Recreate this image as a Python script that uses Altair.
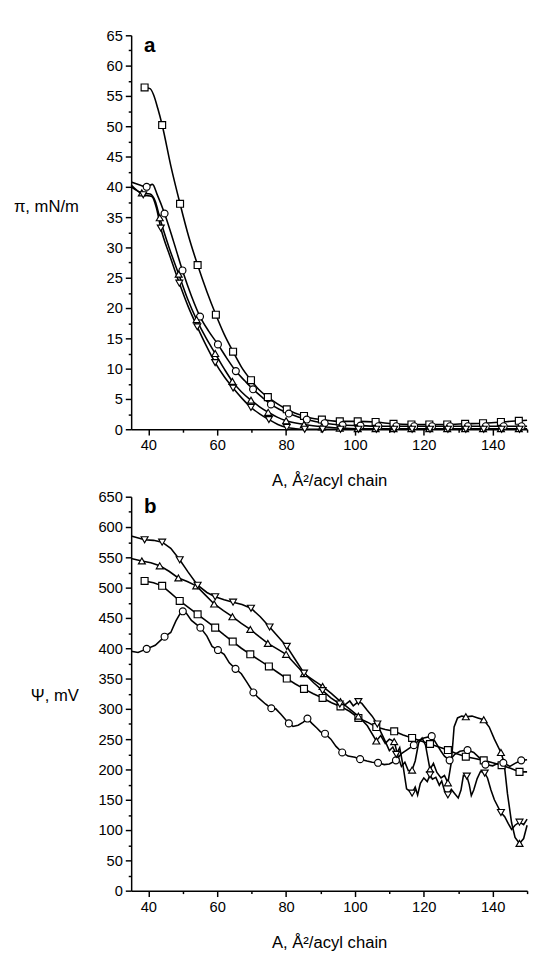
import altair as alt
import pandas as pd

FONT = "Liberation Sans"

# ---------------- panel a : surface pressure isotherms ----------------
a_sq_A = [38.9, 40.5, 41.5, 42.7, 44.0, 46.5, 49.2, 51.7, 54.3, 57.0, 59.6, 62.0, 64.6, 67.0, 69.8, 72.0,
          74.7, 77.5, 80.2, 82.5, 85.2, 87.5, 90.4, 95.6, 100.8, 106.0, 111.2, 116.4, 121.6, 126.8, 132.0,
          137.2, 142.4, 147.6, 150.0]
a_sq_v = [56.4, 56.2, 55.2, 53.0, 50.2, 43.5, 37.2, 31.8, 27.1, 22.7, 18.9, 15.7, 12.8, 10.3, 8.1, 6.6,
          5.3, 4.2, 3.3, 2.7, 2.2, 1.8, 1.6, 1.3, 1.3, 1.2, 0.9, 0.8, 0.8, 0.8, 0.9,
          1.0, 1.2, 1.4, 1.5]
a_sq_m = [38.9, 44.0, 49.2, 54.3, 59.6, 64.6, 69.8, 74.7, 80.2, 85.2, 90.4, 95.6, 100.8, 106.0, 111.2,
          116.4, 121.6, 126.8, 132.0, 137.2, 142.4, 147.6]

a_ci_A = [35.0, 37.5, 39.5, 41.2, 42.5, 44.7, 47.3, 49.9, 52.5, 55.0, 57.5, 60.2, 62.8, 65.4, 68.0, 70.4,
          73.0, 75.6, 78.0, 80.8, 86.0, 91.2, 96.4, 101.6, 106.8, 112.0, 117.2, 122.4, 127.6, 132.8, 138.0,
          143.2, 148.4, 150.0]
a_ci_v = [40.8, 40.3, 40.0, 40.4, 38.8, 35.6, 31.0, 26.2, 22.0, 18.6, 16.2, 14.0, 11.7, 9.6, 8.0, 6.6,
          5.3, 4.1, 3.3, 2.6, 1.6, 1.0, 0.7, 0.6, 0.5, 0.5, 0.5, 0.5, 0.5, 0.5, 0.5,
          0.5, 0.5, 0.5]
a_ci_m = [39.5, 44.7, 49.9, 55.0, 60.2, 65.4, 70.4, 75.6, 80.8, 86.0, 91.2, 96.4, 101.6, 106.8, 112.0,
          117.2, 122.4, 127.6, 132.8, 138.0, 143.2, 148.4]

a_up_A = [35.0, 38.1, 40.5, 42.0, 43.3, 46.0, 48.8, 51.4, 54.0, 56.7, 59.4, 62.0, 64.4, 67.0, 69.8, 72.3,
          74.8, 77.4, 80.0, 85.2, 90.4, 95.6, 100.8, 106.0, 111.2, 116.4, 121.6, 126.8, 132.0, 137.2, 142.4,
          147.6, 150.0]
a_up_v = [40.0, 39.0, 38.8, 37.6, 34.9, 30.0, 25.6, 21.5, 18.1, 15.1, 12.5, 10.0, 7.9, 6.2, 4.8, 3.7,
          2.8, 2.0, 1.4, 0.8, 0.4, 0.2, 0.1, 0.1, 0.1, 0.1, 0.1, 0.1, 0.1, 0.1, 0.1,
          0.1, 0.1]
a_up_m = [38.1, 43.3, 48.8, 54.0, 59.4, 64.4, 69.8, 74.8, 80.0, 85.2, 90.4, 95.6, 100.8, 106.0, 111.2,
          116.4, 121.6, 126.8, 132.0, 137.2, 142.4, 147.6]

a_dn_A = [35.0, 38.5, 41.0, 42.3, 43.6, 46.3, 49.0, 51.6, 54.2, 56.8, 59.4, 62.0, 64.6, 67.2, 69.8, 72.4,
          75.0, 77.6, 80.2, 82.8, 85.4, 90.6, 95.8, 101.0, 106.2, 111.4, 116.6, 121.8, 127.0, 132.2, 137.4,
          142.6, 147.8, 150.0]
a_dn_v = [40.3, 38.7, 38.4, 36.6, 33.2, 28.5, 24.1, 20.2, 16.9, 13.8, 11.0, 8.7, 6.8, 5.1, 3.6, 2.5,
          1.6, 0.8, 0.3, 0.1, 0.0, 0.0, 0.0, 0.0, 0.0, 0.0, 0.0, 0.0, 0.0, 0.0, 0.0,
          0.0, 0.0, 0.0]
a_dn_m = [38.5, 43.6, 49.0, 54.2, 59.4, 64.6, 69.8, 75.0, 80.2, 85.4, 90.6, 95.8, 101.0, 106.2, 111.4,
          116.6, 121.8, 127.0, 132.2, 137.4, 142.6, 147.8]

# ---------------- panel b : surface potential ----------------
b_dn_A = [35.0, 38.9, 41.5, 44.0, 46.5, 49.1, 51.5, 54.3, 57.0, 59.4, 62.0, 64.6, 67.2, 69.8, 72.5, 75.2,
          77.7, 80.2, 82.7, 85.2, 88.0, 90.6, 93.0, 95.6, 97.0, 98.5, 99.5, 101.0, 102.0, 103.5, 105.0,
          106.5, 107.5, 108.5, 110.0, 111.0, 112.0, 113.0, 114.0, 115.0, 116.6, 117.5, 118.2, 119.0, 120.0,
          121.0, 121.8, 122.5, 123.5, 124.5, 125.2, 126.0, 127.0, 128.0, 129.0, 130.0, 130.8, 131.5, 132.5,
          133.2, 133.8, 134.5, 135.5, 136.5, 137.7, 138.5, 139.5, 140.5, 142.4, 143.5, 144.5, 145.5, 146.5,
          147.8, 149.0, 150.0]
b_dn_v = [585, 579, 578, 575, 565, 546, 526, 504, 492, 485, 480, 476, 472, 466, 452, 435,
          419, 403, 381, 359, 343, 330, 318, 308, 306, 313, 305, 312, 309, 298, 288,
          275, 262, 250, 231, 237, 225, 236, 205, 168, 161, 171, 158, 177, 186,
          180, 191, 184, 187, 174, 181, 165, 158, 167, 160, 153, 166, 190, 189,
          175, 157, 166, 185, 197, 194, 186, 166, 150, 129, 122, 111, 101, 108,
          113, 109, 118]
b_dn_m = [38.9, 44.0, 49.1, 54.3, 59.4, 64.6, 69.8, 75.2, 80.2, 85.2, 90.6, 95.6, 101.0, 106.5, 112.0,
          116.6, 121.8, 127.0, 132.5, 137.7, 142.4, 147.8]

b_up_A = [35.0, 38.1, 40.7, 43.3, 46.0, 48.7, 51.3, 53.9, 56.5, 59.1, 61.8, 64.4, 67.0, 69.6, 72.2, 74.7,
          77.4, 80.0, 82.6, 85.2, 88.0, 90.6, 93.2, 95.8, 98.4, 101.0, 103.6, 106.2, 107.5, 108.8, 110.0,
          111.4, 112.5, 113.5, 114.5, 115.5, 116.6, 117.5, 118.5, 119.5, 120.5, 121.8, 122.8, 123.8, 125.0,
          126.0, 127.0, 128.0, 128.8, 129.8, 131.0, 132.2, 134.0, 135.7, 137.4, 139.0, 140.5, 142.4, 143.3,
          144.3, 145.5, 146.5, 147.8, 149.0, 150.0]
b_up_v = [548, 544, 541, 536, 527, 516, 510, 503, 488, 473, 462, 452, 441, 431, 419, 408,
          399, 390, 374, 358, 347, 337, 325, 312, 300, 288, 272, 247, 256, 243, 250,
          246, 222, 205, 212, 198, 199, 214, 244, 252, 240, 200, 210, 195, 186,
          190, 178, 212, 270, 285, 288, 287, 288, 285, 282, 270, 250, 228, 212,
          160, 112, 88, 78, 86, 108]
b_up_m = [38.1, 43.3, 48.7, 53.9, 59.1, 64.4, 69.6, 74.7, 80.0, 85.2, 90.6, 95.8, 101.0, 106.2, 111.4,
          116.6, 121.8, 127.0, 132.2, 137.4, 142.4, 147.8]

b_sq_A = [38.9, 41.5, 44.0, 46.5, 49.1, 51.7, 54.3, 56.8, 59.4, 62.0, 64.5, 67.0, 69.6, 72.3, 75.0, 77.6,
          80.2, 82.7, 85.2, 87.9, 90.6, 93.2, 95.8, 98.4, 101.0, 103.6, 106.2, 108.8, 111.4, 114.0, 116.6,
          119.2, 121.8, 124.4, 127.0, 129.6, 132.2, 134.8, 137.4, 140.0, 142.6, 145.2, 147.8, 150.0]
b_sq_v = [511, 508, 503, 491, 478, 467, 456, 445, 434, 422, 411, 400, 390, 380, 370, 360,
          350, 341, 333, 325, 318, 310, 304, 296, 285, 278, 270, 266, 263, 257, 252,
          247, 242, 237, 232, 226, 221, 218, 215, 211, 207, 202, 196, 196]
b_sq_m = [38.9, 44.0, 49.1, 54.3, 59.4, 64.5, 69.6, 75.0, 80.2, 85.2, 90.6, 95.8, 101.0, 106.2, 111.4,
          116.6, 121.8, 127.0, 132.2, 137.4, 142.6, 147.8]

b_ci_A = [35.0, 37.0, 39.5, 42.0, 44.7, 46.5, 48.0, 49.5, 50.0, 51.0, 52.5, 55.1, 57.0, 58.5, 60.2, 62.0,
          63.5, 65.3, 67.0, 68.5, 70.5, 72.0, 74.0, 75.7, 77.0, 78.5, 80.8, 82.0, 83.5, 85.0, 86.2,
          87.5, 89.0, 90.0, 91.3, 93.0, 94.5, 96.3, 98.0, 100.0, 101.5, 103.5, 105.0, 106.7, 108.5,
          110.0, 111.9, 113.5, 115.0, 117.1, 118.5, 120.0, 122.3, 123.5, 125.0, 126.0, 127.5, 129.0,
          130.5, 132.7, 134.5, 136.0, 137.9, 140.0, 141.5, 143.1, 145.0, 146.5, 148.3, 150.0]
b_ci_v = [395, 393, 399, 405, 419, 426, 445, 460, 461, 458, 446, 434, 420, 403, 397, 390,
          376, 366, 358, 345, 327, 318, 308, 301, 300, 291, 276, 271, 273, 278, 284,
          276, 268, 262, 259, 250, 238, 228, 222, 220, 217, 214, 212, 211, 208,
          209, 215, 226, 232, 240, 248, 252, 255, 244, 230, 222, 215, 225,
          230, 232, 228, 220, 208, 206, 210, 211, 205, 210, 215, 216]
b_ci_m = [39.5, 44.7, 50.0, 55.1, 60.2, 65.3, 70.5, 75.7, 80.8, 86.2, 91.3, 96.3, 101.5, 106.7, 111.9,
          117.1, 122.3, 127.5, 132.7, 137.9, 143.1, 148.3]

x_ticks = [40, 50, 60, 70, 80, 90, 100, 110, 120, 130, 140, 150]
a_ticks = [i * 2.5 for i in range(27)]
b_ticks = [i * 25 for i in range(27)]

W, H = 405, 403


def frames(series):
    lines, marks = [], []
    for name, shape, A, V, M in series:
        assert len(A) == len(V), name
        df = pd.DataFrame({"A": A, "v": V, "s": name})
        lines.append(df)
        md = df[df["A"].isin(M)].copy()
        md["shape"] = shape
        marks.append(md)
    return pd.concat(lines), pd.concat(marks)


def panel(series, ymax, ticks, major, ytitle, titleY, letter, interp):
    ldf, mdf = frames(series)
    xs = alt.Scale(domain=[35, 150], nice=False, zero=False)
    ys = alt.Scale(domain=[0, ymax], nice=False)
    xax = alt.Axis(values=x_ticks, title="A, Å²/acyl chain",
                   labelExpr="datum.value % 20 == 0 ? datum.label : ''",
                   tickSize={"condition": {"test": "datum.value % 20 == 0", "value": 6}, "value": 3},
                   labelOverlap=False, labelFlush=False, titlePadding=21)
    yax = alt.Axis(values=ticks, title=ytitle,
                   labelExpr=f"datum.value % {major} == 0 ? datum.label : ''",
                   tickSize={"condition": {"test": f"datum.value % {major} == 0", "value": 6}, "value": 3},
                   labelOverlap=False, labelFlush=False,
                   titleAngle=0, titleAlign="right", titleBaseline="middle",
                   titleX=-54, titleY=titleY)
    X = alt.X("A:Q", scale=xs, axis=xax)
    Y = alt.Y("v:Q", scale=ys, axis=yax)
    line = alt.Chart(ldf).mark_line(color="black", strokeWidth=1.6, interpolate=interp).encode(
        x=X, y=Y, detail="s:N",
    )
    pts = alt.Chart(mdf).mark_point(filled=True, fill="white", stroke="black",
                                    strokeWidth=1.2, size=50, opacity=1).encode(
        x=X, y=Y,
        shape=alt.Shape("shape:N", scale=None, legend=None),
    )
    lab = alt.Chart(pd.DataFrame({"t": [letter]})).mark_text(
        font=FONT, fontSize=21, fontWeight="bold", align="left", baseline="middle", color="black"
    ).encode(text="t:N", x=alt.value(13), y=alt.value(11))
    return alt.layer(line, pts, lab).properties(width=W, height=H)


top = panel([
    ("sq", "square", a_sq_A, a_sq_v, a_sq_m),
    ("ci", "circle", a_ci_A, a_ci_v, a_ci_m),
    ("up", "triangle-up", a_up_A, a_up_v, a_up_m),
    ("dn", "triangle-down", a_dn_A, a_dn_v, a_dn_m),
], 65, a_ticks, 5, "π, mN/m", 175, "a", "monotone")

bottom = panel([
    ("sq", "square", b_sq_A, b_sq_v, b_sq_m),
    ("ci", "circle", b_ci_A, b_ci_v, b_ci_m),
    ("up", "triangle-up", b_up_A, b_up_v, b_up_m),
    ("dn", "triangle-down", b_dn_A, b_dn_v, b_dn_m),
], 650, b_ticks, 50, "Ψ, mV", 203, "b", "linear")

chart = alt.vconcat(top, bottom, spacing=69, bounds="flush").properties(
    padding={"left": 5, "top": 10, "right": 0, "bottom": 0}
).configure_view(stroke=None).configure_axis(
    labelFont=FONT, titleFont=FONT, labelFontSize=15, titleFontSize=17,
    labelColor="black", titleColor="black", titleFontWeight="normal",
    domainColor="black", tickColor="black", domainWidth=1.5, tickWidth=1.5,
    labelPadding=3, grid=False,
)

chart.save("out.html", embed_options={"renderer": "svg", "actions": False})
